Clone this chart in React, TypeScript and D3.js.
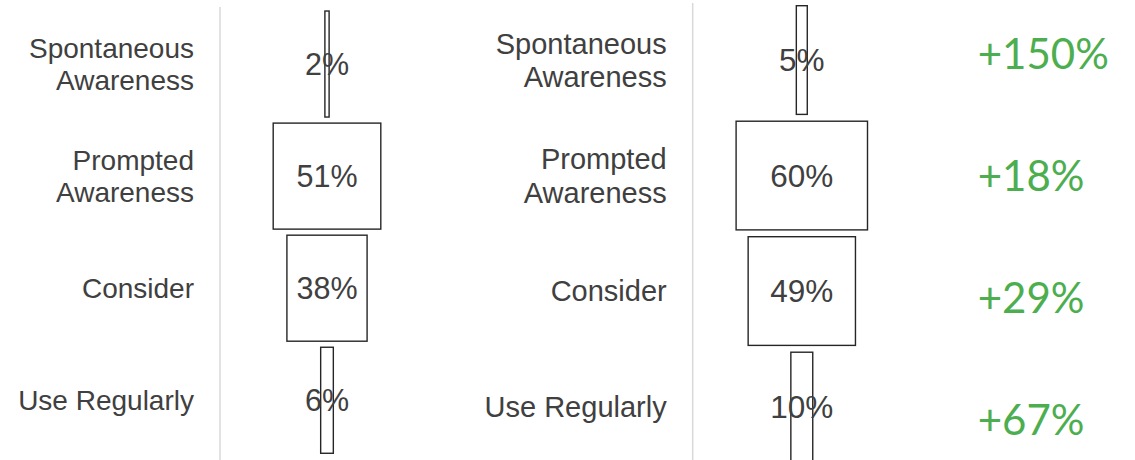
import React from "react";
import * as d3 from "d3";

const categories = ["Spontaneous\nAwareness", "Prompted\nAwareness", "Consider", "Use Regularly"];
const beforeValues = [2, 51, 38, 6];
const afterValues = [5, 60, 49, 10];
const changeLabels = ["+150%", "+18%", "+29%", "+67%"];

const W = 1135;
const H = 460;

type PanelCfg = {
  values: number[];
  axisX: number;
  axisTop: number;
  labelRight: number;
  centerX: number;
  pxPer100: number;
  yRange: [number, number];
  pad: number;
  catFont: number;
  lineH: number;
  valFont: number;
};

const panels: PanelCfg[] = [
  { values: beforeValues, axisX: 220, axisTop: 7, labelRight: 194, centerX: 327, pxPer100: 211, yRange: [8, 456.3], pad: 0.054, catFont: 28, lineH: 32, valFont: 30.5 },
  { values: afterValues, axisX: 692.7, axisTop: 3, labelRight: 666.7, centerX: 801.8, pxPer100: 219, yRange: [2.3, 464.3], pad: 0.059, catFont: 29, lineH: 33.5, valFont: 31.5 },
];

const FONT = "'Liberation Sans', Arial, sans-serif";
const TEXT = "#404040";

function Panel({ cfg }: { cfg: PanelCfg }) {
  const y = d3.scaleBand<string>().domain(categories).range(cfg.yRange).paddingInner(cfg.pad).paddingOuter(cfg.pad / 2);
  const x = d3.scaleLinear().domain([0, 100]).range([0, cfg.pxPer100]);
  const bw = y.bandwidth();
  return (
    <g>
      <line x1={cfg.axisX} x2={cfg.axisX} y1={cfg.axisTop} y2={H} stroke="#d9d9d9" strokeWidth={1.5} />
      {categories.map((c, i) => {
        const cy = (y(c) as number) + bw / 2;
        const lines = c.split("\n");
        const n = lines.length;
        const base = cy + cfg.catFont * 0.36 - ((n - 1) * cfg.lineH) / 2;
        return (
          <text key={"c" + i} textAnchor="end" fontFamily={FONT} fontSize={cfg.catFont} fill={TEXT}>
            {lines.map((l, j) => (
              <tspan key={j} x={cfg.labelRight} y={base + j * cfg.lineH}>{l}</tspan>
            ))}
          </text>
        );
      })}
      {categories.map((c, i) => {
        const w = x(cfg.values[i]);
        return (
          <rect key={"b" + i} x={cfg.centerX - w / 2} y={y(c) as number} width={w} height={bw}
            fill="#ffffff" stroke="#262626" strokeWidth={1.4} />
        );
      })}
      {categories.map((c, i) => {
        const cy = (y(c) as number) + bw / 2;
        return (
          <text key={"v" + i} x={cfg.centerX} y={cy} dy="0.36em" textAnchor="middle" fontFamily={FONT}
            fontSize={cfg.valFont} fill={TEXT}>{cfg.values[i] + "%"}</text>
        );
      })}
    </g>
  );
}

export default function App() {
  const yc = d3.scalePoint<string>().domain(changeLabels).range([69, 435]);
  return (
    <div style={{ position: "absolute", left: 0, top: 0 }}>
      <svg width={W} height={H} style={{ display: "block" }}>
        <rect width={W} height={H} fill="#ffffff" />
        {panels.map((p, i) => <Panel key={i} cfg={p} />)}
        {changeLabels.map((t, i) => (
          <text key={t} x={977.7} y={yc(t) as number} fontFamily="Lato, 'Open Sans', sans-serif" fontSize={42}
            fill="#4cae4f">{t}</text>
        ))}
      </svg>
    </div>
  );
}
